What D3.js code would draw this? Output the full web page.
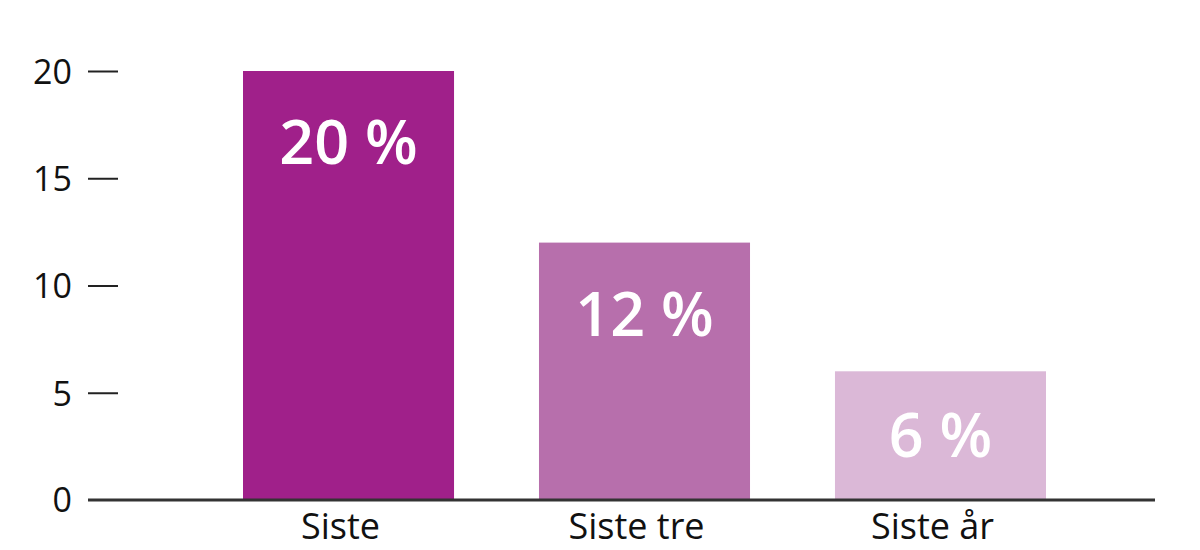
<!DOCTYPE html>
<html>
<head>
<meta charset="utf-8">
<script src="https://cdn.jsdelivr.net/npm/d3@7"></script>
<style>
  body { margin: 0; background: #fff; }
  text { font-family: "Open Sans", "Noto Sans", sans-serif; }
</style>
</head>
<body>
<div id="chart"></div>
<script>
// Define data
let categories = ["Siste", "Siste tre", "Siste år"];
let values = [20, 12, 6];
let valueLabels = ["20 %", "12 %", "6 %"];
let barColors = ["#a0208a", "#b76fac", "#dbb8d7"];
let yTicks = [0, 5, 10, 15, 20];

let svgWidth = 1200;
let svgHeight = 550;

let svg = d3.select("#chart")
  .append("svg")
  .attr("width", svgWidth)
  .attr("height", svgHeight);

// scales
let xScale = d3.scaleBand()
  .domain(categories)
  .range([243, 1046])
  .paddingInner(0.287)
  .paddingOuter(0);

let yScale = d3.scaleLinear()
  .domain([0, 20])
  .range([500, 71]);

// y axis: short tick marks, labels to the left
let leftAxis = d3.axisLeft(yScale)
  .tickValues(yTicks.filter(d => d > 0))
  .tickSize(30)
  .tickPadding(16);

let yAxis = svg.append("g")
  .attr("transform", "translate(118, 0)")
  .call(leftAxis);

yAxis.select(".domain").remove();
yAxis.selectAll(".tick line")
  .attr("stroke", "#222")
  .attr("stroke-width", 2);
yAxis.selectAll(".tick text")
  .attr("fill", "#111")
  .attr("font-size", 34)
  .attr("dy", "0.36em");

// zero label
svg.append("text")
  .attr("x", 72)
  .attr("y", yScale(0))
  .attr("dy", "0.36em")
  .attr("text-anchor", "end")
  .attr("font-size", 34)
  .attr("fill", "#111")
  .text(yTicks[0]);

// bars
svg.selectAll("rect.bar")
  .data(values)
  .enter()
  .append("rect")
  .attr("class", "bar")
  .attr("x", (d, i) => xScale(categories[i]))
  .attr("y", d => yScale(d))
  .attr("width", xScale.bandwidth())
  .attr("height", d => yScale(0) - yScale(d))
  .attr("fill", (d, i) => barColors[i]);

// baseline
svg.append("line")
  .attr("x1", 88)
  .attr("x2", 1155)
  .attr("y1", yScale(0))
  .attr("y2", yScale(0))
  .attr("stroke", "#333")
  .attr("stroke-width", 3);

// value labels inside bars (near top, or centred for short bars)
svg.selectAll("text.value")
  .data(values)
  .enter()
  .append("text")
  .attr("class", "value")
  .attr("x", (d, i) => xScale(categories[i]) + xScale.bandwidth() / 2)
  .attr("y", d => Math.min(yScale(d) + 93, (yScale(d) + yScale(0)) / 2 + 21))
  .attr("text-anchor", "middle")
  .attr("font-size", 61)
  .attr("font-weight", 600)
  .attr("fill", "#fff")
  .text((d, i) => valueLabels[i]);

// category labels
svg.selectAll("text.cat")
  .data(categories)
  .enter()
  .append("text")
  .attr("class", "cat")
  .attr("x", d => xScale(d) + xScale.bandwidth() / 2 - 8)
  .attr("y", 539)
  .attr("text-anchor", "middle")
  .attr("font-size", 36)
  .attr("fill", "#111")
  .text(d => d);
</script>
</body>
</html>
